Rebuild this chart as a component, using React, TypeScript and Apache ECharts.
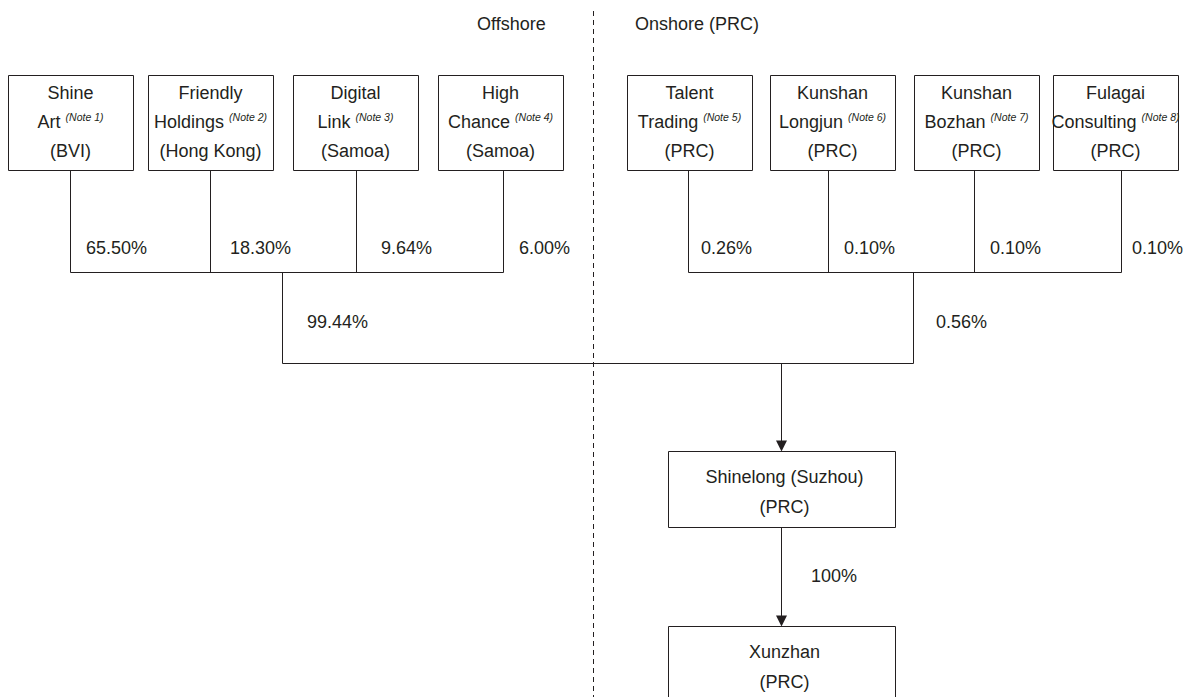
import React, { useEffect, useRef } from "react";
import * as echarts from "echarts";

// ---- Data ----
const regionLabels = ["Offshore", "Onshore (PRC)"];
const shareholderLine1 = ["Shine", "Friendly", "Digital", "High", "Talent", "Kunshan", "Kunshan", "Fulagai"];
const shareholderLine2 = ["Art", "Holdings", "Link", "Chance", "Trading", "Longjun", "Bozhan", "Consulting"];
const shareholderNotes = ["(Note 1)", "(Note 2)", "(Note 3)", "(Note 4)", "(Note 5)", "(Note 6)", "(Note 7)", "(Note 8)"];
const shareholderPlaces = ["(BVI)", "(Hong Kong)", "(Samoa)", "(Samoa)", "(PRC)", "(PRC)", "(PRC)", "(PRC)"];
const shareholderStakes = ["65.50%", "18.30%", "9.64%", "6.00%", "0.26%", "0.10%", "0.10%", "0.10%"];
const groupTotals = ["99.44%", "0.56%"];
const companyNames = ["Shinelong (Suzhou)", "Xunzhan"];
const companyPlaces = ["(PRC)", "(PRC)"];
const subsidiaryStake = "100%";

// ---- Layout (pixels) ----
const BOX_LEFT = [8, 148, 293, 438, 627, 770, 914, 1053];
const BOX_W = 125;
const BOX_TOP = 75;
const BOX_BOTTOM = 170;
const STEM_X = [70, 210, 356, 503, 688, 828, 974, 1121];
const STAKE_X = [86, 230, 381, 519, 701, 844, 990, 1132];
const BAR_Y = 272;
const DROP_X = [282, 913];
const TOTAL_X = [307, 936];
const BOTTOM_Y = 363;
const ARROW_X = 781;
const CO_LEFT = 668;
const CO_W = 227;
const CO_TOP = [451, 626];
const CO_H = [76, 80];
const REGION_X = [477, 635];
const DIVIDER_X = 593;

const INK = "#231f20";
const FONT = "'Liberation Sans', Arial, sans-serif";

function txt(x: number, y: number, text: string, align = "left", size = 18) {
  return {
    type: "text",
    x,
    y,
    silent: true,
    style: { text, fill: INK, fontSize: size, fontFamily: FONT, align, verticalAlign: "middle" },
  };
}

function seg(x1: number, y1: number, x2: number, y2: number, dash?: number[]) {
  return {
    type: "line",
    silent: true,
    shape: { x1, y1, x2, y2 },
    style: { stroke: INK, lineWidth: 1, lineDash: dash },
  };
}

function arrowHead(x: number, tipY: number) {
  return {
    type: "polygon",
    silent: true,
    shape: { points: [[x - 5.5, tipY - 11], [x + 5.5, tipY - 11], [x, tipY]] },
    style: { fill: INK },
  };
}

export default function App() {
  const ref = useRef<HTMLDivElement>(null);
  useEffect(() => {
    if (!ref.current) return;
    const chart = echarts.init(ref.current, undefined, { renderer: "svg" });
    const els: any[] = [];

    // divider + region labels
    els.push(seg(DIVIDER_X + 0.5, 11, DIVIDER_X + 0.5, 697, [5, 4]));
    els.push(txt(REGION_X[0], 24, regionLabels[0]));
    els.push(txt(REGION_X[1], 24, regionLabels[1]));

    // shareholder boxes
    shareholderLine1.forEach((l1, i) => {
      const left = BOX_LEFT[i] + 0.5;
      const cx = BOX_LEFT[i] + BOX_W / 2;
      els.push({
        type: "rect",
        silent: true,
        shape: { x: left, y: BOX_TOP + 0.5, width: BOX_W, height: BOX_BOTTOM - BOX_TOP },
        style: { fill: "#fff", stroke: INK, lineWidth: 1 },
      });
      els.push(txt(cx, 93, l1, "center"));
      els.push({
        type: "text",
        x: cx,
        y: 122,
        silent: true,
        style: {
          text: `{m|${shareholderLine2[i]}} {n|${shareholderNotes[i]}}`,
          fill: INK,
          fontFamily: FONT,
          fontSize: 18,
          align: "center",
          verticalAlign: "middle",
          rich: {
            m: { fontSize: 18, fontFamily: FONT, fill: INK, lineHeight: 22 },
            n: { fontSize: 10.5, fontFamily: FONT, fontStyle: "italic", fill: INK, verticalAlign: "top", lineHeight: 13 },
          },
        },
      });
      els.push(txt(cx, 151, shareholderPlaces[i], "center"));
      // stem
      els.push(seg(STEM_X[i] + 0.5, BOX_BOTTOM, STEM_X[i] + 0.5, BAR_Y + 0.5));
      els.push(txt(STAKE_X[i], 248, shareholderStakes[i]));
    });

    // group bars
    els.push(seg(STEM_X[0] + 0.5, BAR_Y + 0.5, STEM_X[3] + 0.5, BAR_Y + 0.5));
    els.push(seg(STEM_X[4] + 0.5, BAR_Y + 0.5, STEM_X[7] + 0.5, BAR_Y + 0.5));
    DROP_X.forEach((x, g) => {
      els.push(seg(x + 0.5, BAR_Y + 0.5, x + 0.5, BOTTOM_Y + 0.5));
      els.push(txt(TOTAL_X[g], 322, groupTotals[g]));
    });
    els.push(seg(DROP_X[0] + 0.5, BOTTOM_Y + 0.5, DROP_X[1] + 0.5, BOTTOM_Y + 0.5));

    // arrows to companies
    els.push(seg(ARROW_X + 0.5, BOTTOM_Y + 0.5, ARROW_X + 0.5, CO_TOP[0] - 8));
    els.push(arrowHead(ARROW_X + 0.5, CO_TOP[0] + 0.5));
    els.push(seg(ARROW_X + 0.5, CO_TOP[0] + CO_H[0], ARROW_X + 0.5, CO_TOP[1] - 8));
    els.push(arrowHead(ARROW_X + 0.5, CO_TOP[1] + 0.5));
    els.push(txt(811, 576, subsidiaryStake));

    companyNames.forEach((name, i) => {
      els.push({
        type: "rect",
        silent: true,
        shape: { x: CO_LEFT + 0.5, y: CO_TOP[i] + 0.5, width: CO_W, height: CO_H[i] },
        style: { fill: "#fff", stroke: INK, lineWidth: 1 },
      });
      const cx = CO_LEFT + CO_W / 2 + 3;
      els.push(txt(cx, CO_TOP[i] + 26, name, "center"));
      els.push(txt(cx, CO_TOP[i] + 56, companyPlaces[i], "center"));
    });

    chart.setOption({ animation: false, backgroundColor: "#fff", graphic: { elements: els } });
    return () => chart.dispose();
  }, []);

  return (
    <div
      ref={ref}
      style={{ position: "fixed", left: 0, top: 0, width: 1184, height: 697, background: "#fff" }}
    />
  );
}
